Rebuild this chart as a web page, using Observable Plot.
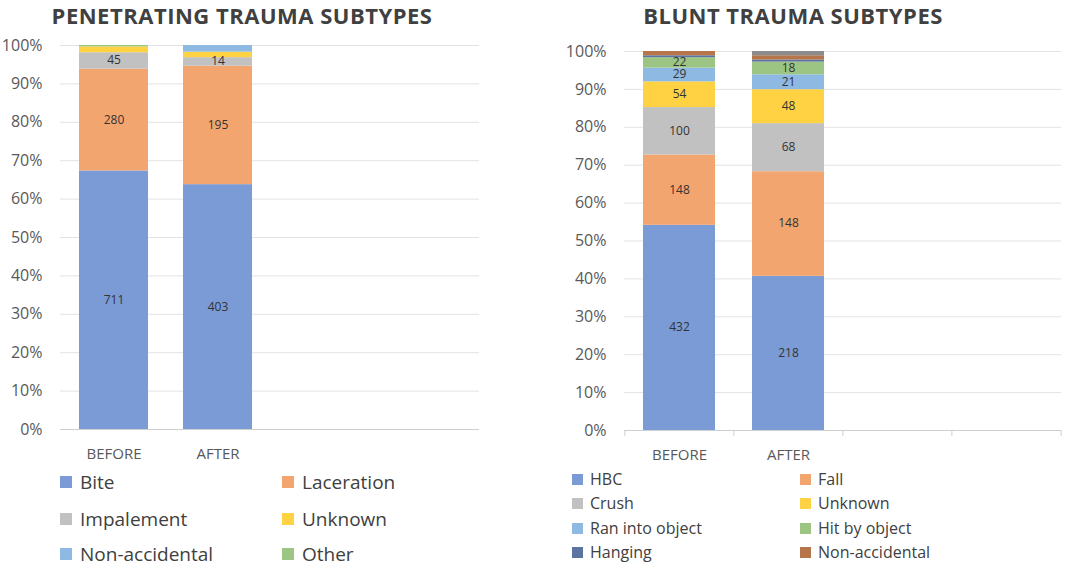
<!DOCTYPE html>
<html>
<head>
<meta charset="utf-8">
<script src="https://cdn.jsdelivr.net/npm/d3@7"></script>
<script src="https://cdn.jsdelivr.net/npm/@observablehq/plot@0.6"></script>
<style>
  html, body { margin: 0; padding: 0; background: #fff; }
  #root { position: relative; width: 1084px; height: 567px; overflow: hidden; font-family: "Open Sans", sans-serif; }
  .title { position: absolute; font-weight: 700; font-size: 22px; letter-spacing: 0.5px; color: #404040; white-space: nowrap; transform: translateX(-50%); line-height: 30px; }
  .chart { position: absolute; top: 0; }
  .leg { position: absolute; display: flex; align-items: center; color: #404040; white-space: nowrap; }
  .sw { display: inline-block; }
</style>
</head>
<body>
<div id="root"></div>
<script>
// ---------- data ----------
const categories = ["BEFORE", "AFTER"];
const slots = ["BEFORE", "AFTER", "slot3", "slot4"]; // Excel axis has two empty category slots

const penSeries = ["Bite", "Laceration", "Impalement", "Unknown", "Non-accidental", "Other"];
const penBefore = [711, 280, 45, 16, 0, 4];
const penAfter  = [403, 195, 14, 9, 11, 0];
const penColors = ["#7a9bd5", "#f3a56f", "#c1c1c1", "#ffd243", "#8db9e3", "#9cc584"];
const penLabeled = ["Bite", "Laceration", "Impalement"];

const bluntSeries = ["HBC", "Fall", "Crush", "Unknown", "Ran into object", "Hit by object", "Hanging", "Non-accidental", "Other"];
const bluntBefore = [432, 148, 100, 54, 29, 22, 4, 9, 0];
const bluntAfter  = [218, 148, 68, 48, 21, 18, 3, 6, 6];
const bluntColors = ["#7a9bd5", "#f3a56f", "#c1c1c1", "#ffd243", "#8db9e3", "#9cc584", "#5d74a0", "#b6754b", "#8c8c8c"];
const bluntLabeled = ["HBC", "Fall", "Crush", "Unknown", "Ran into object", "Hit by object"];
const bluntLegend = ["HBC", "Fall", "Crush", "Unknown", "Ran into object", "Hit by object", "Hanging", "Non-accidental"];

const yTicks = d3.range(0, 11).map(i => i / 10);

function rowsOf(series, before, after) {
  const rows = [];
  series.forEach((s, i) => {
    rows.push({period: categories[0], type: s, value: before[i]});
    rows.push({period: categories[1], type: s, value: after[i]});
  });
  return rows;
}

function makeChart({series, before, after, colors, labeled, width, height, ml, mr, mt, mb, boundaryTicks}) {
  const rows = rowsOf(series, before, after);
  const plotW = width - ml - mr;
  const step = plotW / slots.length;
  const stackOpts = {x: "period", y: "value", z: "type", order: series, offset: "normalize"};
  const marks = [
    Plot.gridY(yTicks, {stroke: "#e3e3e3", strokeOpacity: 1}),
    Plot.axisY(yTicks, {tickSize: 0, tickPadding: 18, tickFormat: d3.format(".0%"), label: null, fontSize: 16, fill: "#595959"}),
    Plot.barY(rows, Plot.stackY({...stackOpts, fill: "type"})),
    Plot.text(rows, Plot.stackY({...stackOpts, text: d => labeled.includes(d.type) ? String(d.value) : "", fill: "#333333", fontSize: 12, lineHeight: 0.9})),
    Plot.ruleY([0], {stroke: "#cfcfcf"}),
    Plot.axisX({tickSize: 0, tickPadding: 19, label: null, fontSize: 15, fill: "#595959",
      tickFormat: d => categories.includes(d) ? d : ""})
  ];
  if (boundaryTicks) {
    marks.push(Plot.axisX({tickSize: 6, stroke: "#cfcfcf", tickFormat: () => "", label: null, dx: -step / 2}));
    marks.push(Plot.axisX([slots[slots.length - 1]], {tickSize: 6, stroke: "#cfcfcf", tickFormat: () => "", label: null, dx: step / 2}));
  }
  return Plot.plot({
    width, height,
    marginLeft: ml, marginRight: mr, marginTop: mt, marginBottom: mb,
    style: {fontFamily: "'Open Sans', sans-serif", color: "#595959", background: "transparent", overflow: "visible"},
    x: {domain: slots, paddingInner: 0.34, paddingOuter: 0.17, label: null},
    y: {domain: [0, 1], label: null},
    color: {domain: series, range: colors},
    marks
  });
}

const root = document.getElementById("root");

function addTitle(text, cx) {
  const t = document.createElement("div");
  t.className = "title";
  t.textContent = text;
  t.style.left = cx + "px";
  t.style.top = "0px";
  root.appendChild(t);
}

function addChart(svg, left) {
  const d = document.createElement("div");
  d.className = "chart";
  d.style.left = left + "px";
  d.appendChild(svg);
  root.appendChild(d);
}

function addLegend(names, allSeries, colors, x0, x1, ys, fontSize, sw, gap) {
  names.forEach((n, i) => {
    const col = i % 2, row = Math.floor(i / 2);
    const el = document.createElement("div");
    el.className = "leg";
    el.style.left = (col ? x1 : x0) + "px";
    el.style.top = (ys[row] - 11) + "px";
    el.style.height = "22px";
    el.style.lineHeight = "22px";
    el.style.fontSize = fontSize + "px";
    const s = document.createElement("span");
    s.className = "sw";
    s.style.width = sw + "px";
    s.style.height = sw + "px";
    s.style.background = colors[allSeries.indexOf(n)];
    s.style.marginRight = gap + "px";
    el.appendChild(s);
    const tx = document.createElement("span");
    tx.textContent = n;
    el.appendChild(tx);
    root.appendChild(el);
  });
}

addTitle("PENETRATING TRAUMA SUBTYPES", 242);
addTitle("BLUNT TRAUMA SUBTYPES", 793);

addChart(makeChart({series: penSeries, before: penBefore, after: penAfter, colors: penColors, labeled: penLabeled,
  width: 490, height: 475, ml: 60, mr: 11, mt: 45, mb: 46, boundaryTicks: false}), 0);
addChart(makeChart({series: bluntSeries, before: bluntBefore, after: bluntAfter, colors: bluntColors, labeled: bluntLabeled,
  width: 544, height: 475, ml: 84, mr: 23, mt: 51, mb: 45, boundaryTicks: true}), 540);

addLegend(penSeries, penSeries, penColors, 60, 282, [482, 519, 554], 19, 12, 8);
addLegend(bluntLegend, bluntSeries, bluntColors, 572, 800, [479, 503, 528, 552], 16, 11, 7);
</script>
</body>
</html>
